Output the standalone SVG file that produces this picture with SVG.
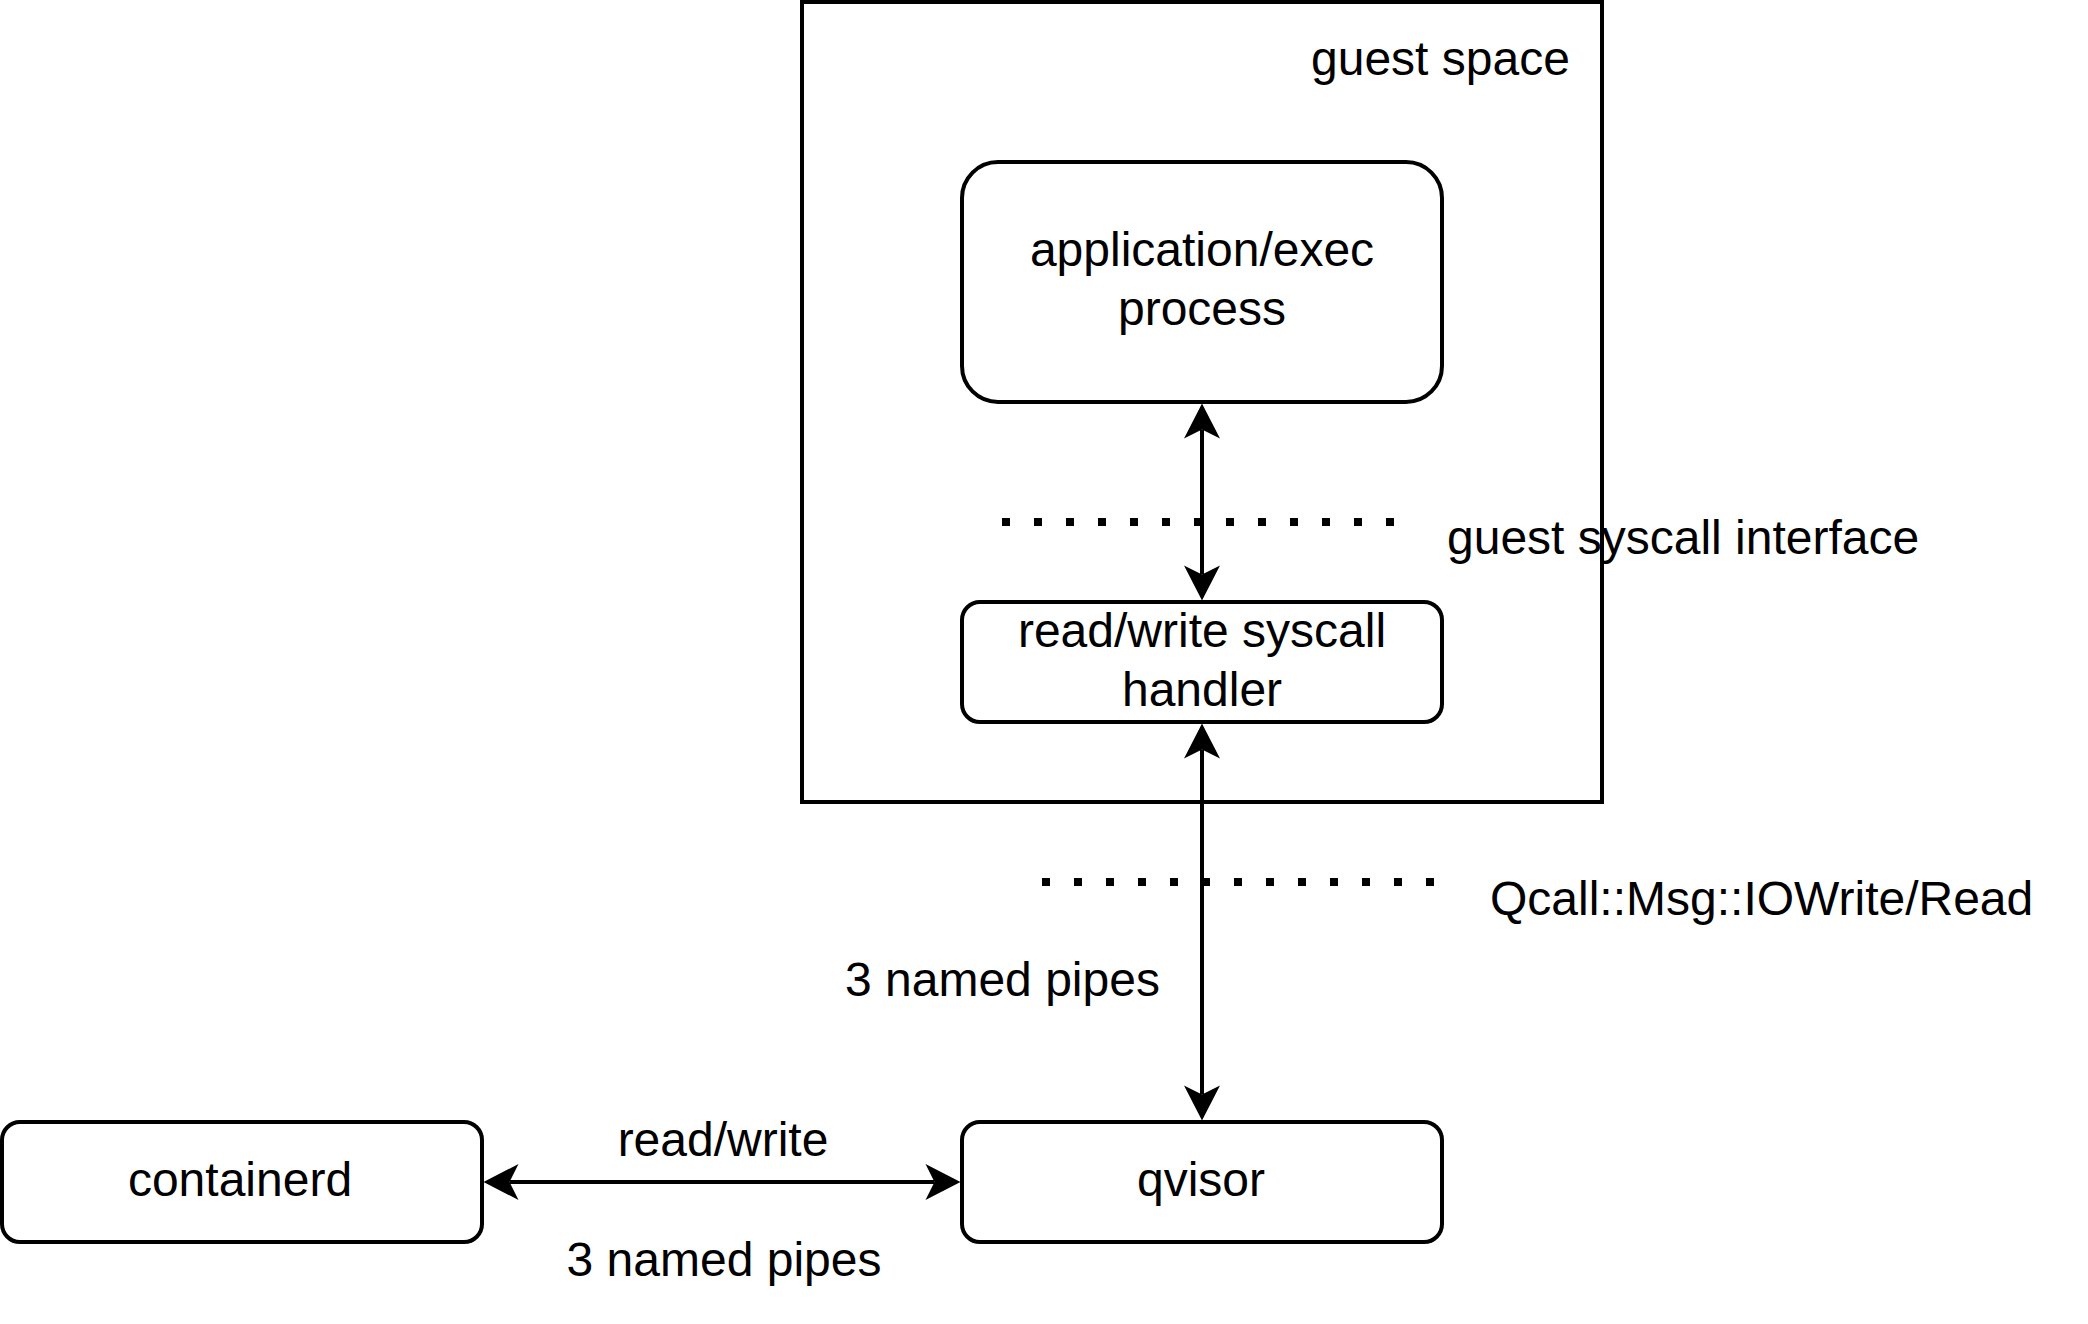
<svg xmlns="http://www.w3.org/2000/svg" width="2088" height="1324" viewBox="0 0 2088 1324">
<style>
  .box { fill: #ffffff; stroke: #000000; stroke-width: 4; }
  .conn { fill: none; stroke: #000000; stroke-width: 4; }
  .dots { fill: none; stroke: #000000; stroke-width: 8; stroke-dasharray: 8 24; }
  text { font-family: "Liberation Sans", Arial, Helvetica, sans-serif; font-size: 48px; fill: #000000; }
  .c { text-anchor: middle; }
</style>
<defs>
  <marker id="arrow" markerUnits="userSpaceOnUse" markerWidth="40" markerHeight="40" viewBox="-10 -20 40 40" refX="0" refY="0" orient="auto-start-reverse">
    <path d="M26,0 L-9,-18 L0,0 L-9,18 Z" fill="#000000" stroke="none"/>
  </marker>
</defs>
<rect width="2088" height="1324" fill="#ffffff"/>

<g id="guest-space">
  <rect class="box" x="802" y="2" width="800" height="800"/>
  <text x="1311" y="75">guest space</text>
</g>

<g id="app-process">
  <rect class="box" x="962" y="162" width="480" height="240" rx="36" ry="36"/>
  <text class="c" x="1202" y="266">application/exec</text>
  <text class="c" x="1202" y="325">process</text>
</g>

<g id="syscall-handler">
  <rect class="box" x="962" y="602" width="480" height="120" rx="18" ry="18"/>
  <text class="c" x="1202" y="647">read/write syscall</text>
  <text class="c" x="1202" y="706">handler</text>
</g>

<g id="containerd">
  <rect class="box" x="2" y="1122" width="480" height="120" rx="18" ry="18"/>
  <text class="c" x="240" y="1196">containerd</text>
</g>

<g id="qvisor">
  <rect class="box" x="962" y="1122" width="480" height="120" rx="18" ry="18"/>
  <text class="c" x="1201" y="1196">qvisor</text>
</g>

<g id="guest-syscall-interface">
  <line class="dots" x1="1002" y1="522" x2="1402" y2="522"/>
  <text x="1447" y="554">guest syscall interface</text>
</g>

<g id="qcall-boundary">
  <line class="dots" x1="1042" y1="882" x2="1442" y2="882"/>
  <text x="1490" y="915">Qcall::Msg::IOWrite/Read</text>
</g>

<g id="connectors">
  <line class="conn" x1="1202" y1="429.5" x2="1202" y2="574.5" marker-start="url(#arrow)" marker-end="url(#arrow)"/>
  <line class="conn" x1="1202" y1="749.5" x2="1202" y2="1094.5" marker-start="url(#arrow)" marker-end="url(#arrow)"/>
  <line class="conn" x1="509.5" y1="1182" x2="934.5" y2="1182" marker-start="url(#arrow)" marker-end="url(#arrow)"/>
  <text x="845" y="996">3 named pipes</text>
  <text class="c" x="723" y="1156">read/write</text>
  <text class="c" x="724" y="1276">3 named pipes</text>
</g>
</svg>
